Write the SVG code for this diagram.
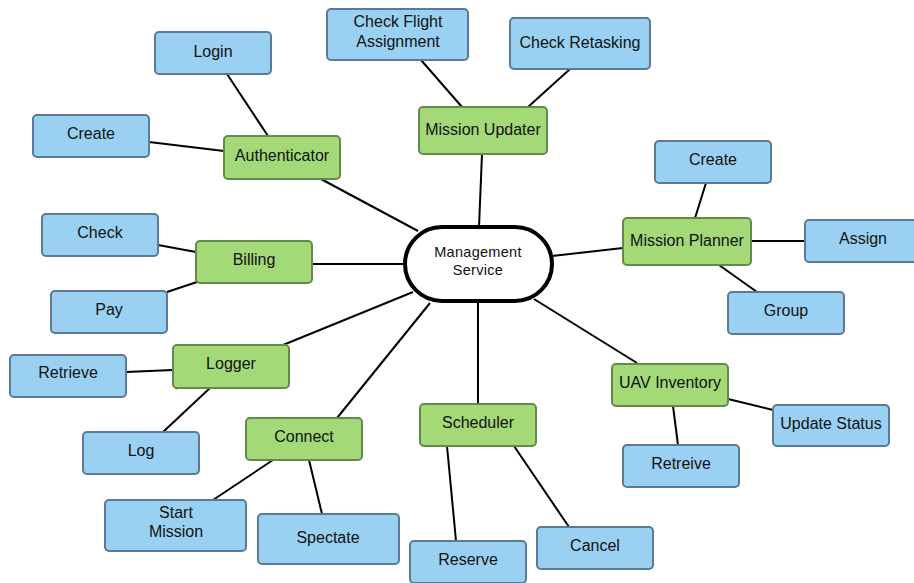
<svg xmlns="http://www.w3.org/2000/svg" width="914" height="583" viewBox="0 0 914 583">
  <style>
    .leaf rect { fill: #9ad1f2; stroke: #5a7a96; stroke-width: 2; }
    .svc rect { fill: #a3d977; stroke: #648a4a; stroke-width: 2; }
    .hub rect { fill: #ffffff; stroke: #000000; stroke-width: 4; }
    text { font-family: "Liberation Sans", Arial, sans-serif; font-size: 16px; fill: #111111; text-anchor: middle; }
    .hub text { font-size: 14.5px; letter-spacing: 0.3px; }
    #connectors line, #connectors path { stroke: #000000; stroke-width: 2; fill: none; }
  </style>
  <rect width="914" height="583" fill="#ffffff"/>

  <g id="connectors">
    <line x1="227" y1="74" x2="268" y2="136"/>
    <line x1="149" y1="142" x2="224" y2="151"/>
    <line x1="321" y1="179" x2="418" y2="231"/>
    <line x1="158" y1="245" x2="196" y2="252"/>
    <line x1="312" y1="264" x2="405" y2="264"/>
    <line x1="167" y1="292" x2="197" y2="282"/>
    <line x1="421" y1="60" x2="462" y2="107"/>
    <line x1="570" y1="69" x2="528" y2="107"/>
    <line x1="482" y1="154" x2="479" y2="227"/>
    <line x1="706" y1="183" x2="695" y2="218"/>
    <line x1="552" y1="256" x2="623" y2="248"/>
    <line x1="751" y1="241" x2="805" y2="241"/>
    <line x1="719" y1="265" x2="757" y2="292"/>
    <line x1="413" y1="292" x2="283" y2="345"/>
    <line x1="430" y1="303" x2="337" y2="418"/>
    <line x1="126" y1="372" x2="173" y2="370"/>
    <line x1="210" y1="388" x2="163" y2="432"/>
    <path d="M173 384 L177 389"/>
    <line x1="273" y1="460" x2="213" y2="500"/>
    <line x1="309" y1="460" x2="322" y2="514"/>
    <line x1="447" y1="446" x2="456" y2="541"/>
    <line x1="514" y1="446" x2="569" y2="527"/>
    <line x1="478" y1="301" x2="478" y2="404"/>
    <line x1="534" y1="299" x2="637" y2="363"/>
    <line x1="728" y1="399" x2="773" y2="410"/>
    <line x1="673" y1="406" x2="678" y2="445"/>
  </g>

  <!-- central service -->
  <g id="management-service" class="hub">
    <rect x="405" y="227" width="147" height="74" rx="37" ry="37"/>
    <text x="478" y="257">Management</text>
    <text x="478" y="275">Service</text>
  </g>

  <!-- authenticator branch -->
  <g id="authenticator" class="svc">
    <rect x="224" y="136" width="116" height="43" rx="4"/>
    <text x="282" y="161">Authenticator</text>
  </g>
  <g id="auth-login" class="leaf">
    <rect x="155" y="32" width="116" height="42" rx="4"/>
    <text x="213" y="57">Login</text>
  </g>
  <g id="auth-create" class="leaf">
    <rect x="33" y="115" width="116" height="42" rx="4"/>
    <text x="91" y="139">Create</text>
  </g>

  <!-- billing branch -->
  <g id="billing" class="svc">
    <rect x="196" y="241" width="116" height="42" rx="4"/>
    <text x="254" y="265">Billing</text>
  </g>
  <g id="billing-check" class="leaf">
    <rect x="42" y="214" width="116" height="42" rx="4"/>
    <text x="100" y="238">Check</text>
  </g>
  <g id="billing-pay" class="leaf">
    <rect x="51" y="291" width="116" height="42" rx="4"/>
    <text x="109" y="315">Pay</text>
  </g>

  <!-- mission updater branch -->
  <g id="mission-updater" class="svc">
    <rect x="419" y="107" width="128" height="47" rx="4"/>
    <text x="483" y="135">Mission Updater</text>
  </g>
  <g id="updater-check-flight" class="leaf">
    <rect x="327" y="9" width="141" height="51" rx="4"/>
    <text x="398" y="27">Check Flight</text>
    <text x="398" y="47">Assignment</text>
  </g>
  <g id="updater-check-retasking" class="leaf">
    <rect x="510" y="18" width="140" height="51" rx="4"/>
    <text x="580" y="48">Check Retasking</text>
  </g>

  <!-- mission planner branch -->
  <g id="mission-planner" class="svc">
    <rect x="623" y="218" width="128" height="47" rx="4"/>
    <text x="687" y="246">Mission Planner</text>
  </g>
  <g id="planner-create" class="leaf">
    <rect x="655" y="141" width="116" height="42" rx="4"/>
    <text x="713" y="165">Create</text>
  </g>
  <g id="planner-assign" class="leaf">
    <rect x="805" y="220" width="116" height="42" rx="4"/>
    <text x="863" y="244">Assign</text>
  </g>
  <g id="planner-group" class="leaf">
    <rect x="728" y="292" width="116" height="42" rx="4"/>
    <text x="786" y="316">Group</text>
  </g>

  <!-- logger branch -->
  <g id="logger" class="svc">
    <rect x="173" y="345" width="116" height="43" rx="4"/>
    <text x="231" y="369">Logger</text>
  </g>
  <g id="logger-retrieve" class="leaf">
    <rect x="10" y="355" width="116" height="42" rx="4"/>
    <text x="68" y="378">Retrieve</text>
  </g>
  <g id="logger-log" class="leaf">
    <rect x="83" y="432" width="116" height="42" rx="4"/>
    <text x="141" y="456">Log</text>
  </g>

  <!-- connect branch -->
  <g id="connect" class="svc">
    <rect x="246" y="418" width="116" height="42" rx="4"/>
    <text x="304" y="442">Connect</text>
  </g>
  <g id="connect-start-mission" class="leaf">
    <rect x="105" y="500" width="141" height="51" rx="4"/>
    <text x="176" y="518">Start</text>
    <text x="176" y="537">Mission</text>
  </g>
  <g id="connect-spectate" class="leaf">
    <rect x="258" y="514" width="141" height="50" rx="4"/>
    <text x="328" y="543">Spectate</text>
  </g>

  <!-- scheduler branch -->
  <g id="scheduler" class="svc">
    <rect x="420" y="404" width="116" height="42" rx="4"/>
    <text x="478" y="428">Scheduler</text>
  </g>
  <g id="scheduler-reserve" class="leaf">
    <rect x="410" y="541" width="116" height="42" rx="4"/>
    <text x="468" y="565">Reserve</text>
  </g>
  <g id="scheduler-cancel" class="leaf">
    <rect x="537" y="527" width="116" height="42" rx="4"/>
    <text x="595" y="551">Cancel</text>
  </g>

  <!-- uav inventory branch -->
  <g id="uav-inventory" class="svc">
    <rect x="612" y="364" width="116" height="42" rx="4"/>
    <text x="670" y="388">UAV Inventory</text>
  </g>
  <g id="uav-update-status" class="leaf">
    <rect x="773" y="405" width="116" height="41" rx="4"/>
    <text x="831" y="429">Update Status</text>
  </g>
  <g id="uav-retreive" class="leaf">
    <rect x="623" y="445" width="116" height="42" rx="4"/>
    <text x="681" y="469">Retreive</text>
  </g>
</svg>
